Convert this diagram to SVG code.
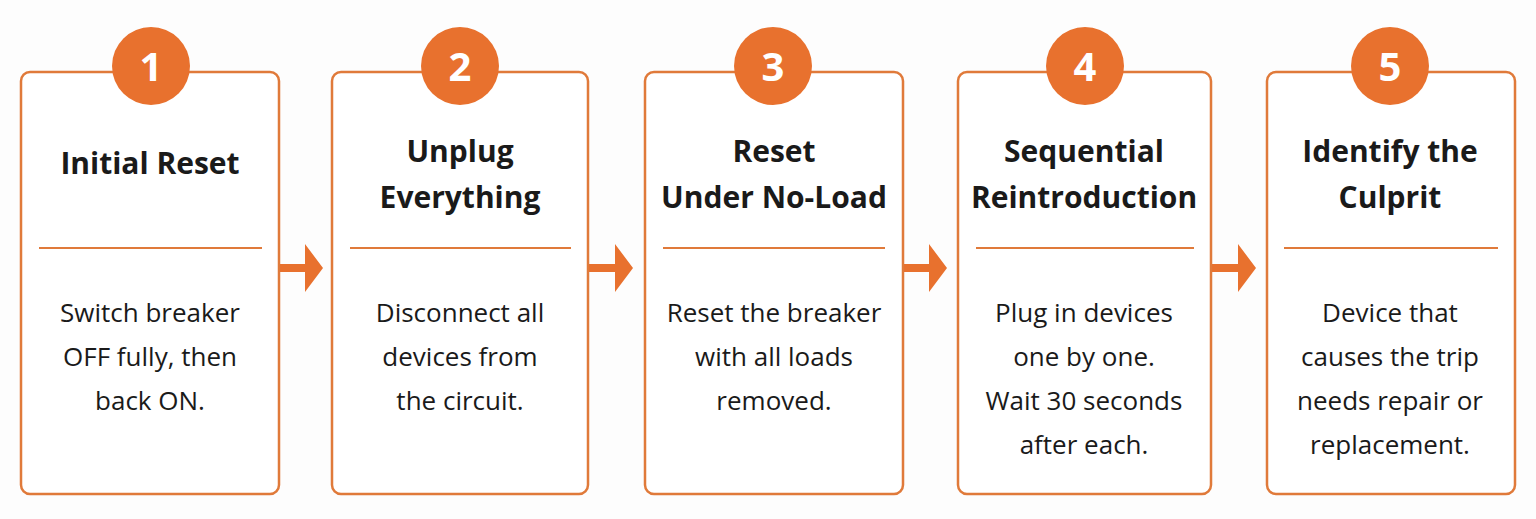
<svg xmlns="http://www.w3.org/2000/svg" width="1536" height="519" viewBox="0 0 1536 519">
<style>
.box{fill:#fff;stroke:#e07a3a;stroke-width:2.5}
.div{stroke:#e07a3a;stroke-width:2}
.c{fill:#e8712e}
.n{font:bold 40px "Open Sans",sans-serif;fill:#fff;text-anchor:middle}
.t{font:bold 30px "Open Sans",sans-serif;fill:#1a1a1a;text-anchor:middle}
.b{font:26px "Open Sans",sans-serif;fill:#1a1a1a;text-anchor:middle}
.ar{fill:#e8712e}
</style>
<rect width="1536" height="519" fill="#fdfdfd"/>
<g id="connectors">
<path class="ar" d="M280 264h25v-20l18 24-18 24v-20h-25z"/>
<path class="ar" d="M589 264h26v-20l18 24-18 24v-20h-26z"/>
<path class="ar" d="M903 264h26v-20l18 24-18 24v-20h-26z"/>
<path class="ar" d="M1211 264h27v-20l18 24-18 24v-20h-27z"/>
</g>
<g id="step1">
<rect class="box" x="21" y="72" width="258" height="422" rx="9"/>
<circle class="c" cx="151" cy="66" r="39"/><text class="n" x="151" y="81">1</text>
<text class="t" x="150" y="174">Initial Reset</text>
<line class="div" x1="39" y1="248" x2="262" y2="248"/>
<text class="b" x="150" y="322">Switch breaker</text><text class="b" x="150" y="366">OFF fully, then</text><text class="b" x="150" y="410">back ON.</text>
</g>
<g id="step2">
<rect class="box" x="332" y="72" width="256" height="422" rx="9"/>
<circle class="c" cx="460" cy="66" r="39"/><text class="n" x="460" y="81">2</text>
<text class="t" x="460" y="162">Unplug</text><text class="t" x="460" y="208">Everything</text>
<line class="div" x1="350" y1="248" x2="571" y2="248"/>
<text class="b" x="460" y="322">Disconnect all</text><text class="b" x="460" y="366">devices from</text><text class="b" x="460" y="410">the circuit.</text>
</g>
<g id="step3">
<rect class="box" x="645" y="72" width="258" height="422" rx="9"/>
<circle class="c" cx="773" cy="66" r="39"/><text class="n" x="773" y="81">3</text>
<text class="t" x="774" y="162">Reset</text><text class="t" x="774" y="208">Under No-Load</text>
<line class="div" x1="663" y1="248" x2="885" y2="248"/>
<text class="b" x="774" y="322">Reset the breaker</text><text class="b" x="774" y="366">with all loads</text><text class="b" x="774" y="410">removed.</text>
</g>
<g id="step4">
<rect class="box" x="958" y="72" width="253" height="422" rx="9"/>
<circle class="c" cx="1085" cy="66" r="39"/><text class="n" x="1085" y="81">4</text>
<text class="t" x="1084" y="162">Sequential</text><text class="t" x="1084" y="208">Reintroduction</text>
<line class="div" x1="976" y1="248" x2="1194" y2="248"/>
<text class="b" x="1084" y="322">Plug in devices</text><text class="b" x="1084" y="366">one by one.</text><text class="b" x="1084" y="410">Wait 30 seconds</text><text class="b" x="1084" y="454">after each.</text>
</g>
<g id="step5">
<rect class="box" x="1267" y="72" width="248" height="422" rx="9"/>
<circle class="c" cx="1390" cy="66" r="39"/><text class="n" x="1390" y="81">5</text>
<text class="t" x="1390" y="162">Identify the</text><text class="t" x="1390" y="208">Culprit</text>
<line class="div" x1="1284" y1="248" x2="1498" y2="248"/>
<text class="b" x="1390" y="322">Device that</text><text class="b" x="1390" y="366">causes the trip</text><text class="b" x="1390" y="410">needs repair or</text><text class="b" x="1390" y="454">replacement.</text>
</g>
</svg>
